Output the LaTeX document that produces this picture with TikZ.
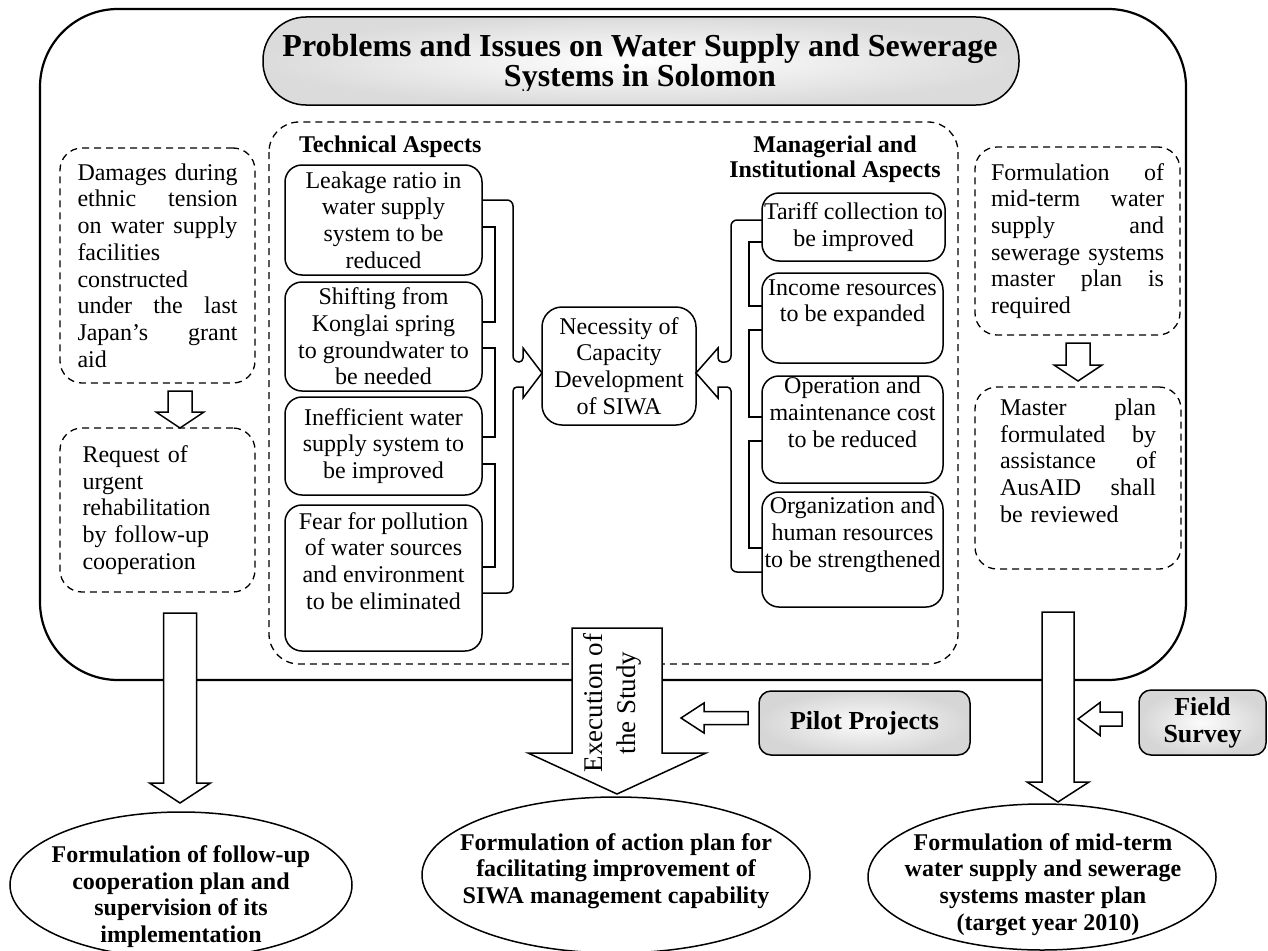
\documentclass[tikz,border=0pt]{standalone}
\usepackage{fontspec}
\setmainfont{Liberation Serif}
\usetikzlibrary{shapes.geometric}
\newcommand\blkdown[6]{\draw[blk] ({#1-#5},#2) -- ({#1-#5},#3) -- ({#1-#6},#3) -- (#1,#4) -- ({#1+#6},#3) -- ({#1+#5},#3) -- ({#1+#5},#2) -- cycle;}
\newcommand\blkleft[6]{\draw[blk] (#2,{#1-#5}) -- (#3,{#1-#5}) -- (#3,{#1-#6}) -- (#4,#1) -- (#3,{#1+#6}) -- (#3,{#1+#5}) -- (#2,{#1+#5}) -- cycle;}
\begin{document}
\begin{tikzpicture}[x=1pt,y=-1pt,
  every node/.style={inner sep=0pt, outer sep=0pt},
  body/.style={font=\fontsize{24}{26.7}\selectfont},
  bbold/.style={font=\bfseries\fontsize{24}{26.7}\selectfont},
  solidbox/.style={draw, line width=1.5pt, rounded corners=17pt, align=center, body, anchor=north west, inner xsep=2pt},
  dashbox/.style={draw, line width=1.3pt, dash pattern=on 7pt off 5pt, rounded corners=22pt, align=left, body, anchor=north west},
  conn/.style={line width=1.5pt},
  blk/.style={draw, line width=1.5pt, fill=white, line join=miter},
  ell/.style={draw, ellipse, line width=1.5pt, fill=white},
  shadebox/.style={draw, line width=1.5pt, inner color=gray!3, outer color=gray!32, rounded corners=12pt, align=center, font=\bfseries\fontsize{26}{27}\selectfont, anchor=north west},
]
\useasboundingbox (0,0) rectangle (1268,950);

% outer frame
\draw[line width=2.2pt, rounded corners=78pt] (40,9) rectangle (1186,680);

% title
\node[draw, line width=1.5pt, rounded corners=43pt, inner color=white, outer color=gray!28,
      minimum width=756, minimum height=88] (title) at (641,61) {};
\begin{scope}
\clip (0,0) rectangle (1268,90);
\node[align=center, font=\bfseries\fontsize{32}{26}\selectfont] (titletext) at (640,63.5)
  {Problems and Issues on Water Supply and Sewerage\\Systems in Solomon};
\end{scope}

% middle dashed frame
\draw[line width=1.3pt, dash pattern=on 7pt off 5pt, rounded corners=30pt] (269,122) rectangle (958,664);

\node[bbold, anchor=base west] (tech) at (299,152) {Technical Aspects};
\node[align=center, font=\bfseries\fontsize{24}{25}\selectfont] (mgr) at (835,159) {Managerial and\\Institutional Aspects};

% technical boxes
\node[solidbox, minimum width=197, minimum height=110] (T1) at (285,165) {Leakage ratio in\\water supply\\system to be\\reduced};
\node[solidbox, minimum width=197, minimum height=109] (T2) at (285,282) {Shifting from\\Konglai spring\\to groundwater to\\be needed};
\node[solidbox, minimum width=197, minimum height=98] (T3) at (285,397) {Inefficient water\\supply system to\\be improved};
\node[solidbox, minimum width=197, minimum height=146] (T4) at (285,505) {Fear for pollution\\of water sources\\and environment\\to be eliminated\\\strut};

% managerial boxes
\node[solidbox, minimum width=181, minimum height=68] (M1) at (762,193) {Tariff collection to\\be improved};
\node[solidbox, minimum width=181, minimum height=90] (M2) at (762,273) {Income resources\\to be expanded\\\strut};
\node[solidbox, minimum width=181, minimum height=107] (M3) at (762,376) {Operation and\\maintenance cost\\to be reduced\\\strut};
\node[solidbox, minimum width=181, minimum height=115] (M4) at (762,492) {Organization and\\human resources\\to be strengthened\\\strut};

% centre box
\node[solidbox, rounded corners=20pt, minimum width=154, minimum height=118] (nec) at (542,307) {Necessity of\\Capacity\\Development\\of SIWA};

% left brackets
\draw[conn] (T1.east |- 0,200) [rounded corners=6pt] -- (513,200) -- (513,362) [rounded corners=4pt] -- (523,362) [sharp corners] -- (523,348) -- (nec.west |- 0,373) -- (523,398) -- (523,387) [rounded corners=4pt] -- (513,387) [rounded corners=6pt] -- (513,593) -- (T4.east |- 0,593);
\draw[conn] (T1.east |- 0,227) -- (495,227) -- (495,322) -- (T2.east |- 0,322);
\draw[conn] (T2.east |- 0,348) -- (495,348) -- (495,437) -- (T3.east |- 0,437);
\draw[conn] (T3.east |- 0,464) -- (495,464) -- (495,567) -- (T4.east |- 0,567);

% right brackets
\draw[conn] (M1.west |- 0,220) [rounded corners=6pt] -- (731,220) -- (731,362) [rounded corners=4pt] -- (718,362) [sharp corners] -- (718,348) -- (nec.east |- 0,373) -- (718,398) -- (718,387) [rounded corners=4pt] -- (731,387) [rounded corners=6pt] -- (731,572) -- (M4.west |- 0,572);
\draw[conn] (M1.west |- 0,242) -- (749,242) -- (749,306) -- (M2.west |- 0,306);
\draw[conn] (M2.west |- 0,330) -- (749,330) -- (749,417) -- (M3.west |- 0,417);
\draw[conn] (M3.west |- 0,441) -- (749,441) -- (749,548) -- (M4.west |- 0,548);

% left column
\node[dashbox, text width=160, minimum width=195, minimum height=235] (dam) at (60,148)
  {Damages\hfill during\\ethnic\hfill tension\\on\hfill water\hfill supply\\facilities\\constructed\\under\hfill the\hfill last\\Japan’s\hfill grant\\aid};
\node[dashbox, text width=150, minimum width=195, minimum height=164] (req) at (60,428)
  {Request of\\urgent\\rehabilitation\\by follow-up\\cooperation};

% right column
\node[dashbox, text width=173, minimum width=205, minimum height=188] (form) at (975,147)
  {Formulation\hfill of\\mid-term\hfill water\\supply\hfill and\\\mbox{sewerage systems}\\master\hfill plan\hfill is\\required};
\node[dashbox, text width=156, minimum width=206, minimum height=182] (mas) at (975,387)
  {Master\hfill plan\\formulated\hfill by\\assistance\hfill of\\AusAID\hfill shall\\be reviewed\\\strut};

% block arrows
\blkdown{180}{391}{412}{428}{12}{24}
\blkdown{1078}{343}{365}{381}{12}{24}
\blkdown{180}{613}{783}{803}{16.5}{30.5}
\blkdown{1058}{612}{782}{802}{16}{31}
\blkdown{617}{628}{753}{794}{45}{89}
\blkleft{718}{748}{704}{681}{6.5}{15}
\blkleft{719}{1122}{1100}{1078}{7}{16.5}

\node[rotate=90, align=center, font=\fontsize{27}{33}\selectfont] (exec) at (612,703) {Execution of\\the Study};

% side boxes
\node[shadebox, minimum width=211, minimum height=64] (pilot) at (759,691) {Pilot Projects};
\node[shadebox, minimum width=127, minimum height=65] (field) at (1139,690) {Field\\Survey};

% ellipses
\node[ell, minimum width=342, minimum height=146] (E1) at (181,885) {};
\node[bbold, align=center] (E1t) at (181,896.5) {Formulation of follow-up\\cooperation plan and\\supervision of its\\implementation};
\node[ell, minimum width=388, minimum height=156] (E2) at (616,875) {};
\node[bbold, align=center] (E2t) at (616,871) {Formulation of action plan for\\facilitating improvement of\\SIWA management capability};
\node[ell, minimum width=348, minimum height=146] (E3) at (1042,877) {};
\node[bbold, align=center] (E3t) at (1043,884.5) {Formulation of mid-term\\water supply and sewerage\\systems master plan\\\hspace*{10pt}(target year 2010)};
\end{tikzpicture}
\end{document}
